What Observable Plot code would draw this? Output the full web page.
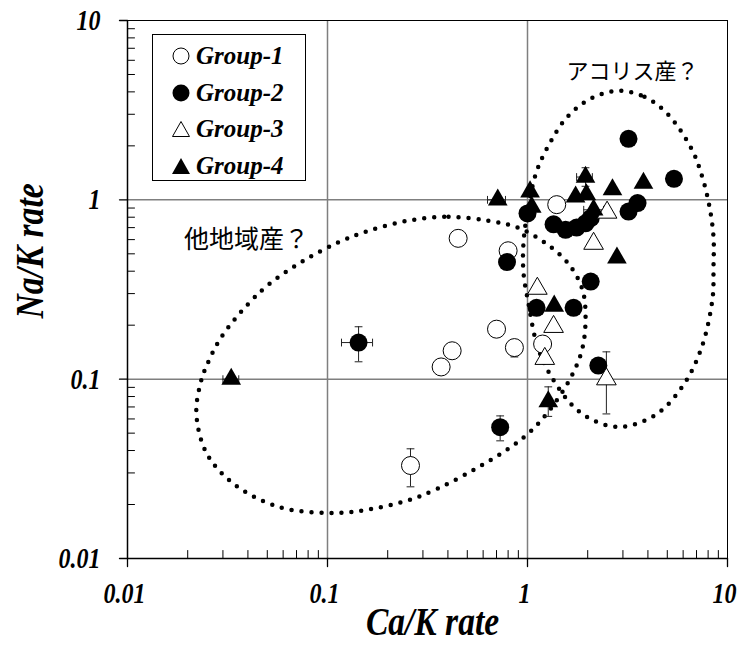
<!DOCTYPE html>
<html><head><meta charset="utf-8">
<script src="https://cdn.jsdelivr.net/npm/d3@7"></script>
<script src="https://cdn.jsdelivr.net/npm/@observablehq/plot@0.6"></script>
<style>
body{margin:0;background:#fff;}
#wrap{position:relative;width:755px;height:661px;}
#legend{position:absolute;left:152px;top:34px;width:154px;height:147px;border:1px solid #000;background:#fff;box-sizing:border-box;
 font-family:"Liberation Serif","Times New Roman",serif;font-weight:bold;font-style:italic;font-size:25px;}
#legend .row{position:absolute;left:0;height:26px;display:flex;align-items:center;}
#legend svg{margin-left:19px;margin-right:6px;}
</style></head><body><div id="wrap"></div>
<script>
// ---- data ----
const groups = ["Group-1", "Group-2", "Group-3", "Group-4"];
const g1x = [0.45, 0.80, 1.40, 0.70, 0.42, 0.37, 0.86, 1.19, 0.26];
const g1y = [0.61, 0.52, 0.94, 0.19, 0.144, 0.117, 0.150, 0.157, 0.033];
const g2x = [3.2, 5.4, 3.55, 3.2, 1.0, 1.35, 1.55, 1.76, 1.95, 2.07, 0.79, 2.07, 1.11, 1.70, 2.26, 0.73, 0.143];
const g2y = [2.19, 1.31, 0.96, 0.86, 0.84, 0.73, 0.68, 0.70, 0.74, 0.79, 0.45, 0.35, 0.25, 0.25, 0.119, 0.054, 0.16];
const g3x = [2.5, 2.14, 1.12, 1.35, 1.22, 2.48];
const g3y = [0.85, 0.57, 0.32, 0.196, 0.13, 0.10];
const g4x = [0.71, 1.03, 1.95, 1.74, 1.97, 2.66, 3.8, 2.14, 1.05, 2.8, 1.36, 1.27, 0.033];
const g4y = [1.0, 1.11, 1.34, 1.04, 1.07, 1.14, 1.24, 0.88, 0.91, 0.475, 0.256, 0.075, 0.10];

// vertical error bars: x, low, high
const errVx  = [0.26, 0.86, 0.143, 0.73, 2.48, 1.95, 1.27];
const errVlo = [0.0251, 0.133, 0.125, 0.0453, 0.064, 1.19, 0.062];
const errVhi = [0.0409, 0.164, 0.196, 0.0624, 0.142, 1.51, 0.0906];
// horizontal error bars: y, low, high
const errHy  = [0.16, 1.0, 1.34, 0.88, 0.10];
const errHlo = [0.1175, 0.631, 1.76, 1.91, 0.030];
const errHhi = [0.168, 0.776, 2.11, 2.40, 0.036];

// dotted ellipses (outline points)
const ell1x = [0.251, 0.403, 0.638, 0.902, 1.245, 1.603, 1.884, 1.95, 1.862, 1.622, 1.259, 0.977, 0.668, 0.285, 0.1445, 0.1012, 0.0569, 0.0339, 0.0248, 0.0221, 0.0232, 0.0251, 0.0295, 0.0398, 0.0513, 0.0759, 0.1148, 0.1603];
const ell1y = [0.764, 0.804, 0.764, 0.698, 0.568, 0.440, 0.315, 0.209, 0.142, 0.0991, 0.0649, 0.0483, 0.0359, 0.0221, 0.0184, 0.01796, 0.0194, 0.0261, 0.0388, 0.0640, 0.0954, 0.1217, 0.172, 0.260, 0.340, 0.457, 0.583, 0.672];
const ell2x = [2.851, 3.846, 5.012, 6.607, 7.499, 8.128, 8.511, 8.511, 8.414, 7.413, 6.026, 4.365, 2.818, 1.820, 1.274, 1.109, 1.012, 0.955, 0.955, 1.0, 1.109, 1.288, 1.567, 2.065];
const ell2y = [4.055, 3.753, 3.017, 1.925, 1.327, 0.914, 0.622, 0.423, 0.2805, 0.1495, 0.0929, 0.0632, 0.0542, 0.0657, 0.1098, 0.1594, 0.263, 0.3916, 0.5756, 0.857, 1.433, 2.053, 2.866, 3.659];

const annoText = ["アコリス産？", "他地域産？"];
const annoX = [3.35, 0.0394];
const annoY = [5.18, 0.598];

const majorTicks = [0.01, 0.1, 1, 10];
const tickLabels = ["0.01", "0.1", "1", "10"];
const gridTicks = [0.1, 1];
const minorTicks = [0.01, 0.1, 1].flatMap(d => [2, 3, 4, 5, 6, 7, 8, 9].map(m => m * d));
const xTitle = "Ca/K rate";
const yTitle = "Na/K rate";

// ---- tables ----
const pts = (xs, ys) => xs.map((x, i) => ({x, y: ys[i]}));
const G1 = pts(g1x, g1y), G2 = pts(g2x, g2y), G3 = pts(g3x, g3y), G4 = pts(g4x, g4y);
const EV = errVx.map((x, i) => ({x, lo: errVlo[i], hi: errVhi[i]}));
const EH = errHy.map((y, i) => ({y, lo: errHlo[i], hi: errHhi[i]}));
const E1 = pts(ell1x, ell1y), E2 = pts(ell2x, ell2y);
const MAJ = majorTicks.map((v, i) => ({v, label: tickLabels[i]}));

const capH = {draw(ctx, size) { const w = Math.sqrt(size); ctx.moveTo(-w, 0); ctx.lineTo(w, 0); }};
const capV = {draw(ctx, size) { const w = Math.sqrt(size); ctx.moveTo(0, -w); ctx.lineTo(0, w); }};
const tickLine = {draw(ctx, l) { ctx.moveTo(0, 0); ctx.lineTo(0, -l); }};

const serif = "Liberation Serif";
const tickFont = {fontSize: 30, fontWeight: "bold", fontStyle: "italic", fontFamily: serif, fill: "black"};
const titleFont = {fontSize: 39, fontWeight: "bold", fontStyle: "italic", fontFamily: serif, fill: "black"};

const dotted = {curve: "catmull-rom-closed", stroke: "black", strokeWidth: 4.5, strokeDasharray: "0,10", strokeLinecap: "round", fill: "none"};

const chart = Plot.plot({
  width: 755, height: 661,
  marginLeft: 127, marginRight: 28, marginTop: 20, marginBottom: 103,
  x: {type: "log", domain: [0.01, 10], axis: null},
  y: {type: "log", domain: [0.01, 10], axis: null},
  style: {fontFamily: serif, background: "white", color: "black"},
  marks: [
    Plot.gridX(gridTicks, {stroke: "#7f7f7f", strokeOpacity: 1, strokeWidth: 1.5}),
    Plot.gridY(gridTicks, {stroke: "#7f7f7f", strokeOpacity: 1, strokeWidth: 1.5}),
    Plot.line(E1, {x: "x", y: "y", ...dotted}),
    Plot.line(E2, {x: "x", y: "y", ...dotted}),
    Plot.ruleX(EV, {x: "x", y1: "lo", y2: "hi", stroke: "#222", strokeWidth: 1}),
    Plot.dot(EV, {x: "x", y: "lo", symbol: capH, r: 2.2, stroke: "#222", strokeWidth: 1}),
    Plot.dot(EV, {x: "x", y: "hi", symbol: capH, r: 2.2, stroke: "#222", strokeWidth: 1}),
    Plot.ruleY(EH, {y: "y", x1: "lo", x2: "hi", stroke: "#222", strokeWidth: 1}),
    Plot.dot(EH, {x: "lo", y: "y", symbol: capV, r: 2.2, stroke: "#222", strokeWidth: 1}),
    Plot.dot(EH, {x: "hi", y: "y", symbol: capV, r: 2.2, stroke: "#222", strokeWidth: 1}),
    Plot.dot(G1, {x: "x", y: "y", r: 9, fill: "white", stroke: "black", strokeWidth: 1}),
    Plot.dot(G2, {x: "x", y: "y", r: 9, fill: "black"}),
    Plot.dot(G3, {x: "x", y: "y", symbol: "triangle", r: 7.3, fill: "white", stroke: "black", strokeWidth: 1}),
    Plot.dot(G4, {x: "x", y: "y", symbol: "triangle", r: 7.3, fill: "black"}),
    Plot.text([annoText[0]], {x: [annoX[0]], y: [annoY[0]], text: d => d, fontFamily: "Noto Sans CJK JP", fontSize: 22, fill: "black"}),
    Plot.text([annoText[1]], {x: [annoX[1]], y: [annoY[1]], text: d => d, fontFamily: "Noto Sans CJK JP", fontSize: 25, fill: "black"}),
    Plot.frame({stroke: "black", strokeWidth: 1}),
    // axis lines
    Plot.ruleX([0.01], {stroke: "black", strokeWidth: 1.5}),
    Plot.ruleY([0.01], {stroke: "black", strokeWidth: 1.5}),
    // x ticks: minor inside (up), major outside (down)
    Plot.vector(minorTicks, {x: d => d, frameAnchor: "bottom", anchor: "start", rotate: 0, length: 8, shape: tickLine, stroke: "black", strokeWidth: 1}),
    Plot.vector(MAJ, {x: "v", frameAnchor: "bottom", anchor: "start", rotate: 180, length: 8, shape: tickLine, stroke: "black", strokeWidth: 1.3}),
    // y ticks: minor inside (right), major outside (left)
    Plot.vector(minorTicks, {y: d => d, frameAnchor: "left", anchor: "start", rotate: 90, length: 7, shape: tickLine, stroke: "black", strokeWidth: 1}),
    Plot.vector(MAJ, {y: "v", frameAnchor: "left", anchor: "start", rotate: -90, length: 8, shape: tickLine, stroke: "black", strokeWidth: 1.3}),
    // tick labels
    Plot.text(MAJ, {x: "v", text: "label", frameAnchor: "bottom", dy: 44, dx: -3, ...tickFont}),
    Plot.text(MAJ, {y: "v", text: "label", frameAnchor: "left", dx: -27, textAnchor: "end", ...tickFont}),
    // axis titles
    Plot.text([xTitle], {text: d => d, frameAnchor: "bottom", dy: 76, dx: 5, ...titleFont}),
    Plot.text([yTitle], {text: d => d, frameAnchor: "left", rotate: -90, dx: -97, dy: 29, ...titleFont})
  ]
});
const wrap = document.getElementById("wrap");
wrap.appendChild(chart);

// condense the serif texts (reference uses a narrow bold italic face)
d3.select(chart).selectAll("text").each(function() {
  const cs = getComputedStyle(this);
  if (!/Liberation Serif/.test(cs.fontFamily)) return;
  const len = this.getComputedTextLength();
  if (len > 0) {
    const big = parseFloat(cs.fontSize) > 35;
    this.setAttribute("textLength", (len * (big ? 0.86 : 0.8)).toFixed(1));
    this.setAttribute("lengthAdjust", "spacingAndGlyphs");
  }
});

// legend overlay
const legend = document.createElement("div");
legend.id = "legend";
const symbols = [
  '<circle cx="9" cy="9" r="8" fill="white" stroke="black" stroke-width="1"/>',
  '<circle cx="9" cy="9" r="8.5" fill="black"/>',
  '<path d="M9,1.5 L17.5,16.5 L0.5,16.5 Z" fill="white" stroke="black" stroke-width="1"/>',
  '<path d="M9,1 L18,17 L0,17 Z" fill="black"/>'
];
const rowTops = [8, 45, 81, 118];
groups.forEach((g, i) => {
  const row = document.createElement("div");
  row.className = "row";
  row.style.top = rowTops[i] + "px";
  row.innerHTML = `<svg width="18" height="18" viewBox="0 0 18 18">${symbols[i]}</svg><span>${g}</span>`;
  legend.appendChild(row);
});
wrap.appendChild(legend);
</script>
</body></html>
